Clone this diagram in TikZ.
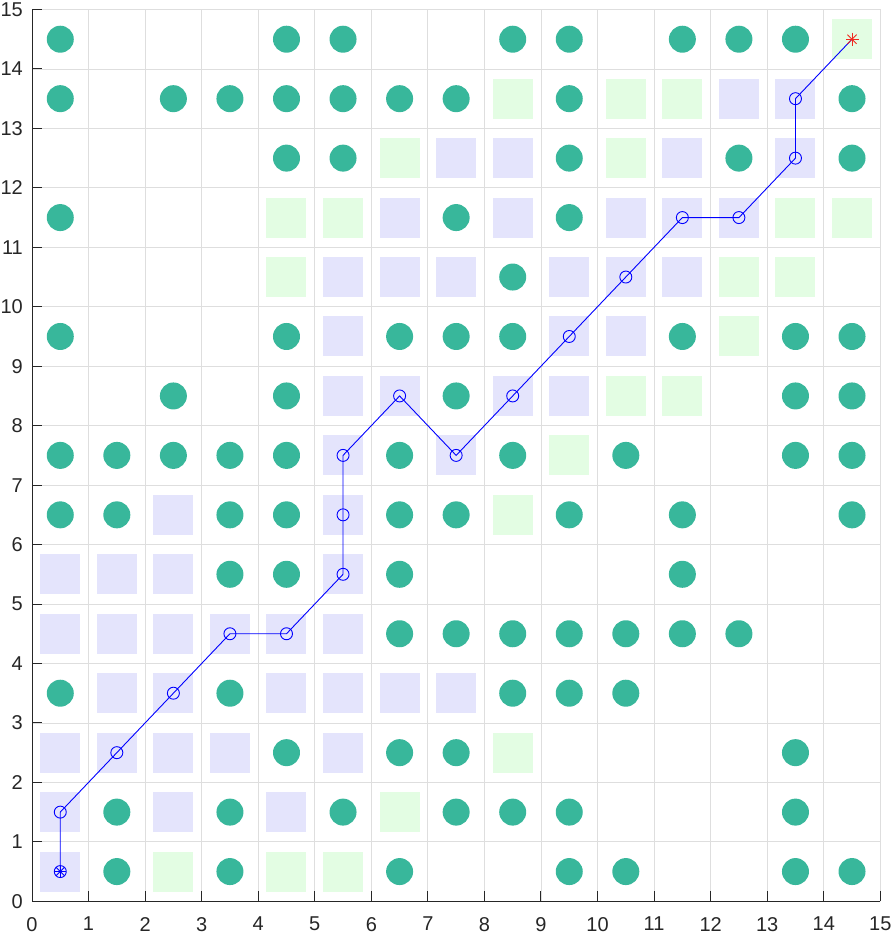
\documentclass[tikz,border=0pt]{standalone}
\usepackage{fontspec}
\setmainfont{Liberation Sans}
\definecolor{obstc}{RGB}{56,183,155}
\definecolor{bluesq}{RGB}{228,228,252}
\definecolor{greensq}{RGB}{227,253,227}
\definecolor{gridc}{RGB}{222,222,222}
\definecolor{axisc}{RGB}{38,38,38}
\definecolor{pathc}{RGB}{0,0,255}
\definecolor{goalc}{RGB}{240,40,30}
\tikzset{
  obst/.style={fill=obstc},
  closedsq/.style={fill=bluesq},
  opensq/.style={fill=greensq},
  gridline/.style={draw=gridc, line width=0.8pt},
  axisline/.style={draw=axisc, line width=1pt},
  ticklab/.style={text=axisc, inner sep=0pt, font=\fontsize{20pt}{24pt}\selectfont},
  pathpt/.style={circle, draw=pathc, line width=0.9pt, minimum size=12pt, inner sep=0pt},
  pathline/.style={draw=pathc, line width=0.9pt},
  astmark/.style={line width=0.9pt},
}
\begin{document}
\begin{tikzpicture}[x=56.55pt,y=59.45pt]
\useasboundingbox (-0.5659,-0.5669) rectangle (15.2423,15.1598);
% grid
\foreach \i in {1,...,15} {
  \draw[gridline] (\i,0) -- (\i,15);
  \draw[gridline] (0,\i) -- (15,\i);
}
% closed (blue) squares
\foreach \y/\xs in {13.5/{12.5,13.5}, 12.5/{7.5,8.5,11.5,13.5}, 11.5/{6.5,8.5,10.5,11.5,12.5},
  10.5/{5.5,6.5,7.5,9.5,10.5,11.5}, 9.5/{5.5,9.5,10.5}, 8.5/{5.5,6.5,8.5,9.5}, 7.5/{5.5,7.5},
  6.5/{2.5,5.5}, 5.5/{0.5,1.5,2.5,5.5}, 4.5/{0.5,1.5,2.5,3.5,4.5,5.5}, 3.5/{1.5,2.5,4.5,5.5,6.5,7.5},
  2.5/{0.5,1.5,2.5,3.5,5.5}, 1.5/{0.5,2.5,4.5}, 0.5/{0.5}}
  \foreach \x in \xs {\fill[closedsq] (\x,\y) ++(-20pt,-20pt) rectangle ++(40pt,40pt);}
% open (green) squares
\foreach \y/\xs in {14.5/{14.5}, 13.5/{8.5,10.5,11.5}, 12.5/{6.5,10.5}, 11.5/{4.5,5.5,13.5,14.5},
  10.5/{4.5,12.5,13.5}, 9.5/{12.5}, 8.5/{10.5,11.5}, 7.5/{9.5}, 6.5/{8.5}, 2.5/{8.5},
  1.5/{6.5}, 0.5/{2.5,4.5,5.5}}
  \foreach \x in \xs {\fill[opensq] (\x,\y) ++(-20pt,-20pt) rectangle ++(40pt,40pt);}
% obstacles
\foreach \y/\xs in {14.5/{0.5,4.5,5.5,8.5,9.5,11.5,12.5,13.5},
  13.5/{0.5,2.5,3.5,4.5,5.5,6.5,7.5,9.5,14.5},
  12.5/{4.5,5.5,9.5,12.5,14.5},
  11.5/{0.5,7.5,9.5},
  10.5/{8.5},
  9.5/{0.5,4.5,6.5,7.5,8.5,11.5,13.5,14.5},
  8.5/{2.5,4.5,7.5,13.5,14.5},
  7.5/{0.5,1.5,2.5,3.5,4.5,6.5,8.5,10.5,13.5,14.5},
  6.5/{0.5,1.5,3.5,4.5,6.5,7.5,9.5,11.5,14.5},
  5.5/{3.5,4.5,6.5,11.5},
  4.5/{6.5,7.5,8.5,9.5,10.5,11.5,12.5},
  3.5/{0.5,3.5,8.5,9.5,10.5},
  2.5/{4.5,6.5,7.5,13.5},
  1.5/{1.5,3.5,5.5,7.5,8.5,9.5,13.5},
  0.5/{1.5,3.5,6.5,9.5,10.5,13.5,14.5}}
  \foreach \x in \xs {\fill[obst] (\x,\y) circle[radius=13.5pt];}
% path points
\foreach \x/\y [count=\i] in {0.5/0.5, 0.5/1.5, 1.5/2.5, 2.5/3.5, 3.5/4.5, 4.5/4.5, 5.5/5.5,
  5.5/6.5, 5.5/7.5, 6.5/8.5, 7.5/7.5, 8.5/8.5, 9.5/9.5, 10.5/10.5, 11.5/11.5, 12.5/11.5,
  13.5/12.5, 13.5/13.5}
  \node[pathpt] (p\i) at (\x,\y) {};
\coordinate (goal) at (14.5,14.5);
\draw[pathline] (p1.center) \foreach \i in {2,...,18} { -- (p\i.center) } -- (goal);
% start asterisk
\foreach \a in {0,45,90,135}
  \draw[astmark, pathc] (p1.center) ++(\a:6pt) -- ++(\a+180:12pt);
% goal asterisk
\foreach \a in {0,45,90,135}
  \draw[astmark, goalc] (goal) ++(\a:6.5pt) -- ++(\a+180:13pt);
% axes
\draw[axisline] (0,15) -- (0,0) -- (15,0);
\foreach \i in {0,...,15} {
  \draw[axisline] (\i,0) -- ++(0,10pt);
  \draw[axisline] (0,\i) -- ++(10pt,0);
  \node[ticklab, anchor=north] (xl\i) at ([yshift=-15.7pt]\i,0) {\i};
  \node[ticklab, anchor=east] (yl\i) at ([xshift=-9pt]0,\i) {\i};
}
\end{tikzpicture}
\end{document}
